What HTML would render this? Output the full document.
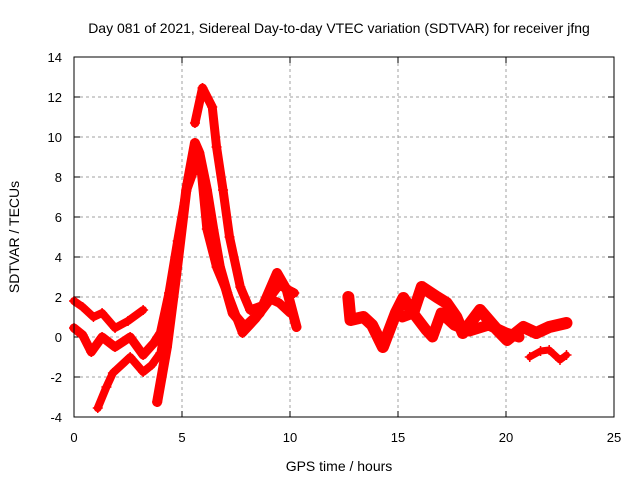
<!DOCTYPE html>
<html><head><meta charset="utf-8">
<style>
body{margin:0;background:#fff;}
svg{display:block;font-family:"Liberation Sans",sans-serif;}
</style></head>
<body>
<svg id="chart" width="640" height="480" viewBox="0 0 640 480">
<rect width="640" height="480" fill="#fff"/>
<text x="339" y="33" font-size="14" text-anchor="middle">Day 081 of 2021, Sidereal Day-to-day VTEC variation (SDTVAR) for receiver jfng</text>
<g id="grid"></g>
<g id="ticks"></g>
<g id="series"></g>
<rect x="74" y="57" width="540" height="360" fill="none" stroke="#000" stroke-width="1"/>
<text x="339" y="471" font-size="14" text-anchor="middle">GPS time / hours</text>
<text x="19" y="237" font-size="14" text-anchor="middle" transform="rotate(-90 19 237)">SDTVAR / TECUs</text>
</svg>
<script>
const xTicks=[0,5,10,15,20,25];
const yTicks=[-4,-2,0,2,4,6,8,10,12,14];
const trackA=[[0,1.8],[0.4,1.5],[0.9,1.0],[1.3,1.2],[1.9,0.45],[2.5,0.8],[3.2,1.35]];
const trackB=[[0,0.45],[0.4,0.1],[0.8,-0.75],[1.3,0],[1.9,-0.5],[2.6,0],[3.2,-0.9],[3.7,-0.3],[4.0,0.2],[4.4,2.2],[4.8,4.8],[5.2,7.3],[5.6,8.5],[5.9,8.2],[6.15,5.4],[6.6,3.5],[7.1,2.2],[7.8,0.2],[8.4,0.9],[9.1,1.9],[9.5,1.7],[10.0,1.2]];
const trackC=[[1.1,-3.55],[1.5,-2.5],[1.8,-1.8],[2.6,-1.0],[3.2,-1.75],[3.6,-1.4],[4.0,-0.8],[4.45,2.0],[4.9,5.0],[5.3,7.8],[5.6,9.4]];
const trackD=[[3.85,-3.25],[4.3,-0.5],[4.7,2.85],[5.2,7.35],[5.6,9.7],[5.8,9.2],[6.15,7.35],[6.45,5.35],[6.75,3.5],[7.35,1.2],[7.9,0.5],[8.6,1.2],[9.4,3.2],[9.85,2.35],[10.3,0.5]];
const trackE=[[5.6,10.7],[5.95,12.45],[6.4,11.5],[6.6,9.5],[6.9,7.35],[7.2,5.0],[7.7,2.5],[8.15,1.35],[8.8,1.6],[9.5,2.6],[10.2,2.2]];
const trackF=[[12.7,2.0],[12.8,0.85],[13.4,1.0],[13.8,0.6],[14.3,-0.5],[14.9,1.2],[15.25,1.95],[15.7,1.2],[16.1,2.5],[16.8,2.0],[17.25,1.7],[17.7,1.0],[18.0,0.2],[18.8,1.35],[19.6,0.35],[20.05,-0.15],[20.8,0.5],[21.4,0.2],[22.0,0.5],[22.8,0.7]];
const trackG=[[15.2,1.0],[15.7,1.2],[16.3,0.35],[16.6,0.0],[17.0,1.2],[17.6,0.6],[18.3,0.3],[19.2,0.6],[20.0,0.2],[20.6,0.0]];
const trackH=[[21.1,-1.0],[21.6,-0.7],[22.0,-0.65],[22.5,-1.15],[22.8,-0.9]];
const tracks=[trackA,trackB,trackC,trackD,trackE,trackF,trackG,trackH];
const widths=[8,9,8,10,9,12,11,7];
const NS='http://www.w3.org/2000/svg';
const X0=74,X1=614,Y0=417,Y1=57;
function sx(v){return X0+(v-0)/(25-0)*(X1-X0);}
function sy(v){return Y0-(v+4)/(14+4)*(Y0-Y1);}
const grid=document.getElementById('grid'),ticks=document.getElementById('ticks'),ser=document.getElementById('series');
function mk(t,a,p){const e=document.createElementNS(NS,t);for(const k in a)e.setAttribute(k,a[k]);p.appendChild(e);return e;}
xTicks.forEach(v=>{
  const x=sx(v);
  if(v>0&&v<25){const g=mk('line',{x1:x,y1:Y1,x2:x,y2:Y0,stroke:'#a0a0a0','stroke-dasharray':'3,3'},grid);
  
  }
  const l=mk('line',{x1:x,y1:Y0,x2:x,y2:Y0-6,stroke:'#000'},ticks);
  
  
  mk('line',{x1:x,y1:Y1,x2:x,y2:Y1+6,stroke:'#000'},ticks);
  const t=mk('text',{x:x,y:442,'font-size':13,'text-anchor':'middle'},ticks);t.textContent=v;
  
  
});
yTicks.forEach(v=>{
  const y=sy(v);
  if(v>-4&&v<14){const g=mk('line',{x1:X0,y1:y,x2:X1,y2:y,stroke:'#a0a0a0','stroke-dasharray':'3,3'},grid);
  
  }
  const l=mk('line',{x1:X0,y1:y,x2:X0+6,y2:y,stroke:'#000'},ticks);
  
  
  mk('line',{x1:X1,y1:y,x2:X1-6,y2:y,stroke:'#000'},ticks);
  const t=mk('text',{x:62,y:y+5,'font-size':13,'text-anchor':'end'},ticks);t.textContent=v;
  
  
});
tracks.forEach((tr,i)=>{
  const pts=tr.map(p=>sx(p[0])+','+sy(p[1])).join(' ');
  const pl=mk('polyline',{points:pts,fill:'none',stroke:'#ff0000','stroke-width':widths[i],'stroke-linejoin':'round','stroke-linecap':'round'},ser);
  
  
  tr.forEach(p=>{
    const x=sx(p[0]),y=sy(p[1]);
    const m=mk('path',{d:`M${x-5},${y}H${x+5}M${x},${y-5}V${y+5}`,stroke:'#ff0000','stroke-width':1.5},ser);
    
    
  });
});
</script>
</body></html>
